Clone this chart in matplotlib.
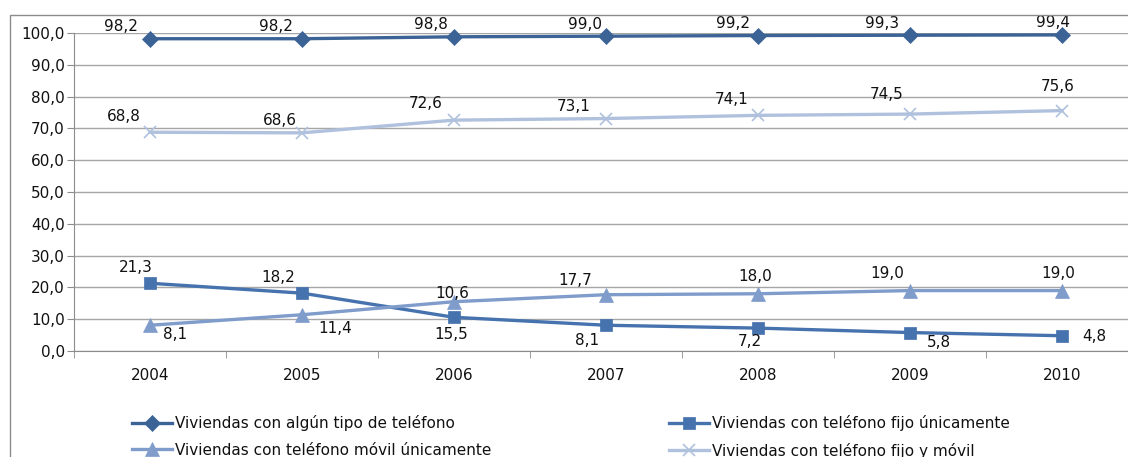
import numpy as np
import matplotlib.pyplot as plt
from matplotlib.patches import Rectangle

# data (percent of households)
years = ['2004', '2005', '2006', '2007', '2008', '2009', '2010']
algun_tipo = [98.2, 98.2, 98.8, 99.0, 99.2, 99.3, 99.4]
fijo_unico = [21.3, 18.2, 10.6, 8.1, 7.2, 5.8, 4.8]
movil_unico = [8.1, 11.4, 15.5, 17.7, 18.0, 19.0, 19.0]
fijo_movil = [68.8, 68.6, 72.6, 73.1, 74.1, 74.5, 75.6]
names = ['Viviendas con algún tipo de teléfono',
         'Viviendas con teléfono fijo únicamente',
         'Viviendas con teléfono móvil únicamente',
         'Viviendas con teléfono fijo y móvil']

# label offsets in pixels (dx, dy) as placed in the original
off_algun = [(-29, 12), (-26, 12), (-23, 12), (-21, 12), (-25, 12), (-28, 12), (-9, 12)]
off_fijo = [(-14, 16), (-24, 16), (-2, 24), (-19, -15), (-8, -13), (29, -10), (32, -1)]
off_movil = [(25, -9), (33, -14), (-3, -33), (-31, 14), (-3, 17), (-23, 17), (-4, 17)]
off_fm = [(-26, 16), (-22, 12), (-28, 17), (-32, 12), (-26, 16), (-23, 20), (-4, 24)]


def fmt(v):
    return ('%.1f' % v).replace('.', ',')


plt.rcParams['font.family'] = 'DejaVu Sans'
plt.rcParams['font.size'] = 11
txt = '#111111'

fig = plt.figure(figsize=(11.28, 4.57), dpi=100)
fig.patches.append(Rectangle((10 / 1128, -0.1), 1.2, 1 - 15 / 457 + 0.1, transform=fig.transFigure,
                             fill=False, edgecolor='#8c8c8c', linewidth=1.0))
ax = fig.add_axes([74 / 1128, 1 - 351 / 457, 1064 / 1128, 318 / 457])
x = np.arange(len(years))

series = [
    (algun_tipo, '#3B6396', 'D', 8, off_algun),
    (fijo_unico, '#4672AE', 's', 9, off_fijo),
    (movil_unico, '#7F9CCB', '^', 9.5, off_movil),
    (fijo_movil, '#AFC1DD', 'x', 8.5, off_fm),
]
handles = []
for (vals, col, mk, ms, offs), name in zip(series, names):
    h, = ax.plot(x, vals, color=col, marker=mk, markersize=ms, linewidth=2.4, label=name,
                 markeredgewidth=1.2 if mk == 'x' else 0.5, markeredgecolor=col, clip_on=False)
    handles.append(h)
    for xi, v, (dx, dy) in zip(x, vals, offs):
        ax.annotate(fmt(v), (xi, v), xytext=(dx, dy), textcoords='offset pixels',
                    ha='center', va='center', fontsize=11, color=txt)

ax.set_xlim(-0.5, 6.5)
ax.set_ylim(0, 100)
ax.set_yticks(np.arange(0, 101, 10))
ax.set_yticklabels([fmt(v) for v in np.arange(0, 101, 10)])
ax.set_xticks(x)
ax.set_xticklabels(years)
ax.set_xticks(np.arange(-0.5, 7, 1), minor=True)
ax.tick_params(axis='x', which='major', length=0, pad=12, labelcolor=txt)
ax.tick_params(axis='x', which='minor', length=5, color='#8c8c8c')
ax.tick_params(axis='y', length=5, color='#8c8c8c', pad=1.5, labelcolor=txt)
ax.grid(axis='y', color='#a6a6a6', linewidth=1.0)
ax.set_axisbelow(True)
for s in ['top', 'right']:
    ax.spines[s].set_visible(False)
for s in ['left', 'bottom']:
    ax.spines[s].set_color('#8c8c8c')

for idx, x0 in [((0, 2), 126), ((1, 3), 663)]:
    leg = fig.legend([handles[i] for i in idx], [names[i] for i in idx], loc='upper left',
                     bbox_to_anchor=(x0 / 1128, 1 - 409 / 457), frameon=False, fontsize=11,
                     handlelength=2.6, handletextpad=0.2, labelspacing=0.75, borderaxespad=0)
    for t in leg.get_texts():
        t.set_color(txt)

fig.savefig('out.png', dpi=100)
